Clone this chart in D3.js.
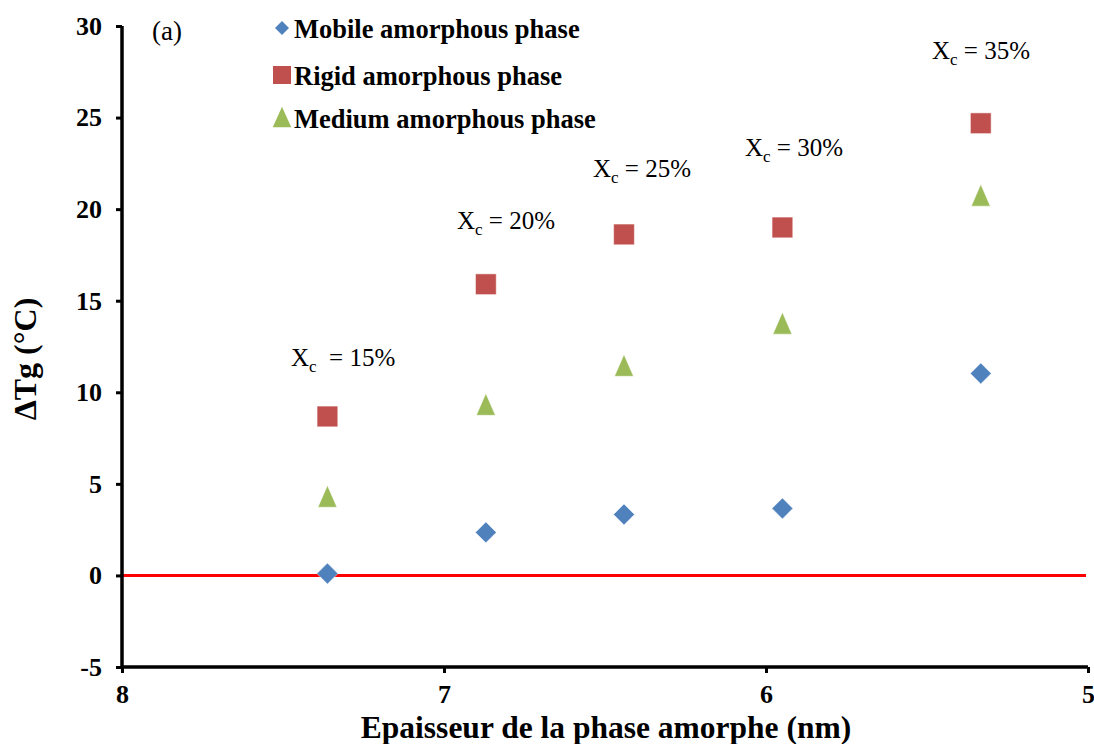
<!DOCTYPE html>
<html><head><meta charset="utf-8">
<script src="https://cdn.jsdelivr.net/npm/d3@7"></script>
<style>body{margin:0;background:#fff}svg{display:block}</style>
</head><body>
<svg id="c" width="1094" height="744"></svg>
<script>
const thickness = [7.362, 6.870, 6.441, 5.949, 5.333];
const mobile = [0.1, 2.35, 3.33, 3.66, 11.03];
const rigid = [8.68, 15.9, 18.62, 19.0, 24.69];
const medium = [4.26, 9.28, 11.41, 13.71, 20.7];
const crystallinity = ["15%", "20%", "25%", "30%", "35%"];
const xTicks = [8, 7, 6, 5];
const yTicks = [-5, 0, 5, 10, 15, 20, 25, 30];

(function () {
const svg = d3.select("#c");
const mL = 122, mR = 1088, mT = 26, mB = 667;
const x = d3.scaleLinear().domain([8, 5]).range([mL, mR]);
const y = d3.scaleLinear().domain([-5, 30]).range([mB, mT]);
const font = "'Liberation Serif', 'Times New Roman', serif";

// zero line
svg.append("line").attr("x1", mL).attr("x2", mR - 2).attr("y1", y(0)).attr("y2", y(0))
  .attr("stroke", "#ff0000").attr("stroke-width", 3);

// axes
const yAxis = svg.append("g").attr("transform", `translate(${mL},0)`)
  .call(d3.axisLeft(y).tickValues(yTicks).tickSize(6).tickPadding(14).tickFormat(d3.format("d")));
const xAxis = svg.append("g").attr("transform", `translate(0,${mB})`)
  .call(d3.axisBottom(x).tickValues(xTicks).tickSize(6).tickPadding(9).tickFormat(d3.format("d")));
yAxis.select(".domain").attr("d", `M0,${mT}V${mB}`);
xAxis.select(".domain").attr("d", `M${mL},0H${mR}`);
[yAxis, xAxis].forEach(g => {
  g.select(".domain").attr("stroke", "#000").attr("stroke-width", 3.5);
  g.selectAll(".tick line").attr("stroke", "#000").attr("stroke-width", 3);
  g.selectAll(".tick text").attr("font-family", font).attr("font-weight", "bold")
    .attr("font-size", 26).attr("fill", "#000");
});
yAxis.selectAll(".tick text").text(d => d < 0 ? "-" + Math.abs(d) : d);
xAxis.selectAll(".tick text").attr("dy", "0.8em");

// axis titles
svg.append("text").attr("x", 606).attr("y", 738).attr("text-anchor", "middle")
  .attr("font-family", font).attr("font-weight", "bold").attr("font-size", 31.5)
  .text("Epaisseur de la phase amorphe (nm)");
svg.append("text").attr("transform", `translate(36,${359}) rotate(-90)`)
  .attr("text-anchor", "middle").attr("font-family", font).attr("font-weight", "bold")
  .attr("font-size", 32).text("ΔTg (°C)");

// custom tall triangle symbol (width from size, height = width * ratio)
function triType(ratio) {
  return { draw(ctx, size) {
    const w = Math.sqrt(size), h = w * ratio;
    ctx.moveTo(0, -h * 0.55);
    ctx.lineTo(w / 2, h * 0.45);
    ctx.lineTo(-w / 2, h * 0.45);
    ctx.closePath();
  }};
}

// markers
const colors = {mobile: "#4f81bd", rigid: "#c0504d", medium: "#9bbb59"};
const sym = {
  mobile: d3.symbol().type(d3.symbolDiamond2).size(280),
  rigid: d3.symbol().type(d3.symbolSquare).size(430),
  medium: d3.symbol().type(triType(1.15)).size(360)
};
function drawSeries(vals, key) {
  svg.append("g").selectAll("path").data(vals).join("path")
    .attr("transform", (d, i) => `translate(${x(thickness[i])},${y(d)})`)
    .attr("d", sym[key]())
    .attr("fill", colors[key]).attr("stroke", "#fff").attr("stroke-width", 0.5);
}
drawSeries(rigid, "rigid");
drawSeries(medium, "medium");
drawSeries(mobile, "mobile");

// Xc labels
const labelPos = [[291, 366], [457, 229], [593, 177], [745, 156], [932, 59]];
crystallinity.forEach((c, i) => {
  const t = svg.append("text").attr("x", labelPos[i][0]).attr("y", labelPos[i][1])
    .attr("font-family", font).attr("font-size", 25).attr("fill", "#000")
    .style("white-space", "pre");
  t.append("tspan").text("X");
  t.append("tspan").attr("font-size", 17).attr("dy", 6).text("c");
  t.append("tspan").attr("dy", -6).text((i === 0 ? "  = " : " = ") + c);
});

// (a)
svg.append("text").attr("x", 152).attr("y", 40).attr("font-family", font)
  .attr("font-size", 27).text("(a)");

// legend
const legend = [["mobile", "Mobile amorphous phase", 28], ["rigid", "Rigid amorphous phase", 75], ["medium", "Medium amorphous phase", 118]];
const lsym = {
  mobile: d3.symbol().type(d3.symbolDiamond2).size(125),
  rigid: d3.symbol().type(d3.symbolSquare).size(324),
  medium: d3.symbol().type(triType(1.1)).size(340)
};
legend.forEach(([k, label, ly]) => {
  svg.append("path").attr("transform", `translate(282,${ly})`).attr("d", lsym[k]()).attr("fill", colors[k]);
  svg.append("text").attr("x", 294).attr("y", ly + 10).attr("font-family", font)
    .attr("font-weight", "bold").attr("font-size", 26.5).text(label);
});
})();
</script>
</body></html>
